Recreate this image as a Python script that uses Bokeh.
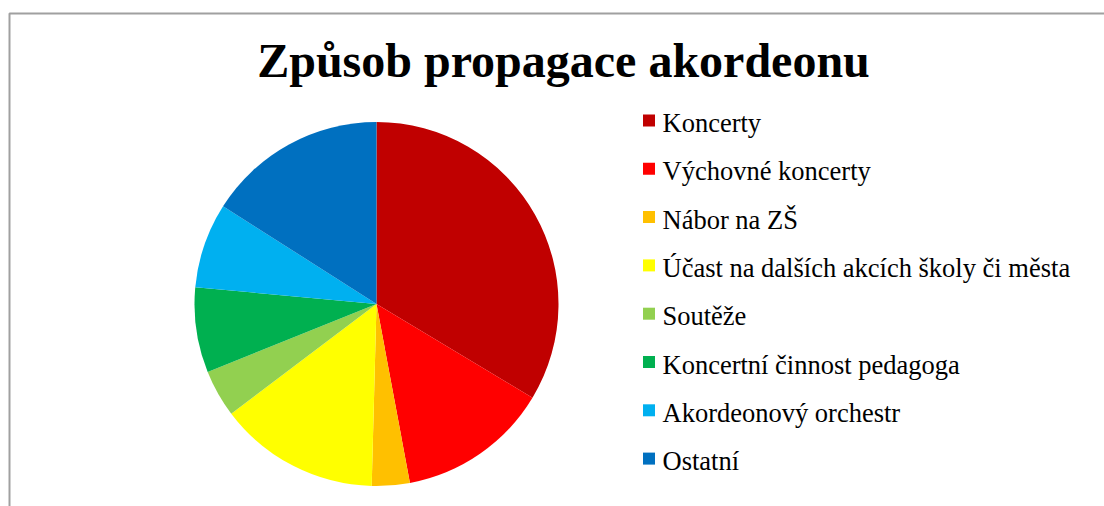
import math
import numpy as np
from bokeh.plotting import figure
from bokeh.models import ColumnDataSource, Label, BoxAnnotation, Range1d
from bokeh.core.properties import value
from bokeh.embed import file_html
from bokeh.resources import INLINE

title_text = "Způsob propagace akordeonu"
categories = [
    "Koncerty",
    "Výchovné koncerty",
    "Nábor na ZŠ",
    "Účast na dalších akcích školy či města",
    "Soutěže",
    "Koncertní činnost pedagoga",
    "Akordeonový orchestr",
    "Ostatní",
]
counts = [40, 16, 4, 17, 5, 9, 9, 19]
colors = ["#C00000", "#FF0000", "#FFC000", "#FFFF00",
          "#92D050", "#00B050", "#00B0F0", "#0070C0"]

W, H = 1104, 506
p = figure(width=W, height=H, output_backend="svg", toolbar_location=None,
           x_range=Range1d(0, W), y_range=Range1d(0, H), min_border=0)
p.axis.visible = False
p.grid.visible = False
p.outline_line_color = None
p.background_fill_color = "white"
p.border_fill_color = "white"

# chart area border
p.add_layout(BoxAnnotation(left=9, right=W + 50, top=H - 13, bottom=-50,
                           fill_color=None, fill_alpha=0, line_color="#A0A0A0",
                           line_alpha=1.0, line_width=2))

# pie
vals = np.array(counts, dtype=float)
frac = vals / vals.sum()
cum = np.concatenate([[0.0], np.cumsum(frac)])
start = math.pi / 2 - cum[:-1] * 2 * math.pi
end = math.pi / 2 - cum[1:] * 2 * math.pi
src = ColumnDataSource(dict(start=list(start), end=list(end), color=colors,
                            cat=categories))
cx, cy, r = 376, H - 303.5, 182
p.wedge(x=cx, y=cy, radius=r, radius_units="screen", start_angle="start",
        end_angle="end", direction="clock", fill_color="color",
        line_color=None, source=src)

# title
p.add_layout(Label(x=563, y=H - 60, text=title_text, text_align="center",
                   text_baseline="alphabetic", text_font="Liberation Serif",
                   text_font_style="bold", text_font_size="48px",
                   text_color="black"))

# legend
n = len(categories)
base0, step = 122.5, 48.3
sq0 = 120
ys = [H - (base0 + i * step) for i in range(n)]
ysq = [H - (sq0 + i * step) for i in range(n)]
leg = ColumnDataSource(dict(y=ys, ysq=ysq, cat=categories, color=colors))
p.rect(x=648.5, y="ysq", width=12, height=12, width_units="screen",
       height_units="screen", fill_color="color", line_color=None, source=leg)
p.text(x=662, y="y", text="cat", text_font=value("Liberation Serif"),
       text_font_size="26.5px", text_baseline="alphabetic", text_align="left",
       text_color="black", source=leg)

open("out.html", "w").write(file_html(p, INLINE))
